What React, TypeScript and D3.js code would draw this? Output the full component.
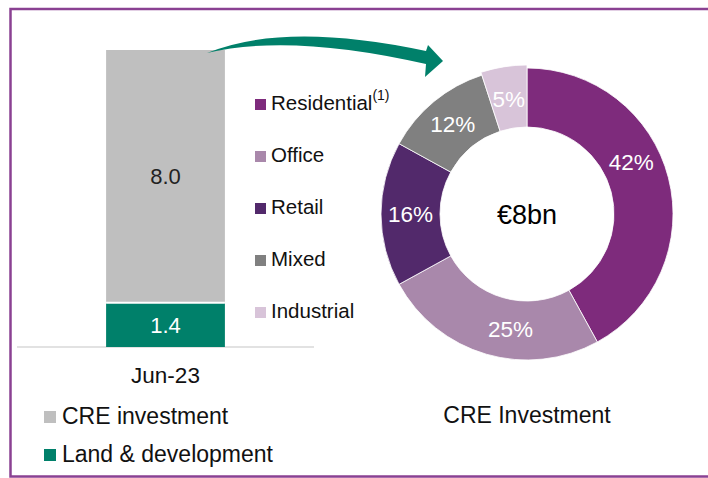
import React from "react";
import * as d3 from "d3";

const barCategories = ["Jun-23"];
const barSeries = ["Land & development", "CRE investment"];
const landValues = [1.4];
const creValues = [8.0];
const barColors = ["#00806A", "#BFBFBF"];

const sectors = ["Residential", "Office", "Retail", "Mixed", "Industrial"];
const sectorShares = [42, 25, 16, 12, 5];
const sectorColors = ["#7E2B7C", "#A988AB", "#52296B", "#808080", "#D8C4D9"];
const labelAngleShift = [-12, -8, 0, 0, 0];
const extraOuter = [0, 0, 0, 0, 3];

const donutCenterText = "€8bn";
const donutTitle = "CRE Investment";

const W = 708;
const H = 478;
const FONT = "'Liberation Sans', Arial, sans-serif";

export default function App() {
  const x = d3
    .scaleBand<string>()
    .domain(barCategories)
    .range([17, 314])
    .paddingInner(0.6)
    .paddingOuter(0.3);
  const total = landValues[0] + creValues[0];
  const y = d3.scaleLinear().domain([0, total]).range([347, 50]);

  const stacked = barCategories.map((c, i) => {
    const l1 = landValues[i];
    const c1 = l1 + creValues[i];
    return { c, segs: [{ y0: 0, y1: l1, v: landValues[i] }, { y0: l1, y1: c1, v: creValues[i] }] };
  });

  const cx = 527;
  const cy = 214;
  const rOuter = 146;
  const rInner = 87;
  const pie = d3
    .pie<number>()
    .sort(null)
    .value((d) => d)(sectorShares);

  return (
    <svg width={W} height={H} style={{ position: "absolute", left: 0, top: 0 }} fontFamily={FONT}>
      <rect x={0} y={0} width={W} height={H} fill="#fff" />
      <path d={`M${W + 5},9 L10.5,9 L10.5,476.5 L${W + 5},476.5`} fill="none" stroke="#8A4192" strokeWidth={2.5} />

      <line x1={17} x2={314} y1={347} y2={347} stroke="#D9D9D9" strokeWidth={1.5} />

      {stacked.map((s) => (
        <g key={s.c}>
          {s.segs.map((seg, j) => (
            <g key={j}>
              <rect
                x={x(s.c)}
                width={x.bandwidth()}
                y={y(seg.y1)}
                height={y(seg.y0) - y(seg.y1)}
                fill={barColors[j]}
              />
              <text
                x={(x(s.c) as number) + x.bandwidth() / 2}
                y={(y(seg.y0) + y(seg.y1)) / 2}
                dy="0.36em"
                textAnchor="middle"
                fontSize={22}
                fill={j === 0 ? "#fff" : "#222"}
              >
                {seg.v.toFixed(1)}
              </text>
            </g>
          ))}
          <line
            x1={x(s.c)}
            x2={(x(s.c) as number) + x.bandwidth()}
            y1={y(s.segs[0].y1)}
            y2={y(s.segs[0].y1)}
            stroke="#fff"
            strokeWidth={2}
          />
          <text
            x={(x(s.c) as number) + x.bandwidth() / 2}
            y={383}
            textAnchor="middle"
            fontSize={22.5}
            fill="#111"
          >
            {s.c}
          </text>
        </g>
      ))}

      {[barSeries[1], barSeries[0]].map((name, i) => (
        <g key={name} transform={`translate(44, ${411 + i * 38})`}>
          <rect x={0} y={0} width={12} height={12} fill={i === 0 ? barColors[1] : barColors[0]} />
          <text x={18} y={12.5} fontSize={23} fill="#111">
            {name}
          </text>
        </g>
      ))}

      <path
        d="M207,53 Q285,21 426,51 L428,45 L443,61 L425,77 L426,64 Q290,33 207,53 Z"
        fill="#00806A"
      />

      {sectors.map((name, i) => (
        <g key={name} transform={`translate(255, ${99 + i * 52})`}>
          <rect x={0} y={0} width={11} height={11} fill={sectorColors[i]} />
          <text x={16} y={11} fontSize={20.5} fill="#111">
            {name}
            {i === 0 ? (
              <tspan fontSize={14} dy={-10}>
                (1)
              </tspan>
            ) : null}
          </text>
        </g>
      ))}

      <g transform={`translate(${cx},${cy})`}>
        {pie.map((p, i) => {
          const arc = d3.arc<d3.PieArcDatum<number>>().innerRadius(rInner).outerRadius(rOuter + extraOuter[i]);
          return <path key={i} d={arc(p) || ""} fill={sectorColors[i]} stroke="#fff" strokeWidth={0.8} />;
        })}
        {pie.map((p, i) => {
          const mid = (p.startAngle + p.endAngle) / 2 + (labelAngleShift[i] * Math.PI) / 180;
          const r = (rInner + rOuter) / 2;
          return (
            <text
              key={i}
              x={r * Math.sin(mid)}
              y={-r * Math.cos(mid)}
              dy="0.36em"
              textAnchor="middle"
              fontSize={22.5}
              fill="#fff"
            >
              {sectorShares[i]}%
            </text>
          );
        })}
        <text x={0} y={0} dy="0.36em" textAnchor="middle" fontSize={27} fill="#000">
          {donutCenterText}
        </text>
      </g>
      <text x={cx} y={423} textAnchor="middle" fontSize={23} fill="#111">
        {donutTitle}
      </text>
    </svg>
  );
}
